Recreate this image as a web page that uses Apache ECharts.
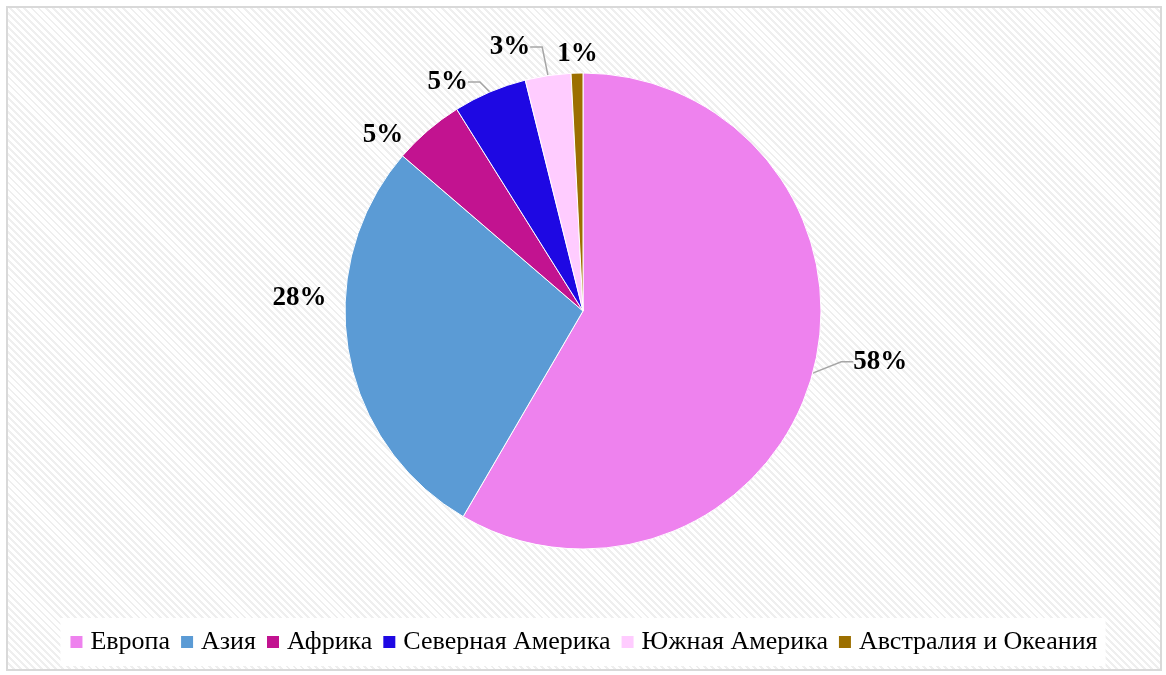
<!DOCTYPE html>
<html lang="ru">
<head>
    <meta charset="UTF-8">
    <title>Круговая диаграмма</title>
    <script src="https://cdn.jsdelivr.net/npm/echarts@6/dist/echarts.min.js"></script>
    <style>
        body { margin: 0; background: #fff; }
        #frame {
            position: absolute; left: 6px; top: 6px; width: 1152px; height: 661px;
            border: 2px solid #d9d9d9;
            background: repeating-linear-gradient(45deg, #ffffff 0px, #ffffff 3px, #efefef 3px, #efefef 5px);
        }
        #pieDiv { position: absolute; left: 0; top: 0; width: 1166px; height: 675px; }
    </style>
</head>
<body>
    <div id="frame"></div>
    <div id="pieDiv"></div>
    <script>
        // данные
        var regions = ['Европа', 'Азия', 'Африка', 'Северная Америка', 'Южная Америка', 'Австралия и Океания'];
        var shares = [58.4, 27.9, 4.8, 5.0, 3.1, 0.8];
        var colors = ['#EE82EE', '#5B9BD5', '#C21390', '#1E08E3', '#FFCCFF', '#9C6F00'];

        var mychart = echarts.init(document.getElementById('pieDiv'));

        // линии выносок как в Excel
        var showLine = [true, false, false, true, true, false];
        // сдвиг подписей как в Excel
        var labelShift = [[10, -15], [4, -55], [23, -11], [58, -35], [77, -41], [38, -5]];

        var pieData = [];
        for (var i = 0; i < regions.length; i++) {
            pieData.push({
                name: regions[i],
                value: shares[i],
                itemStyle: { color: colors[i] },
                labelLine: { show: showLine[i] }
            });
        }

        var option = {
            backgroundColor: 'transparent',
            animation: false,
            legend: {
                bottom: 9,
                left: 'center',
                icon: 'rect',
                itemWidth: 14,
                itemHeight: 14,
                itemGap: 9,
                padding: [11, 8, 11, 8],
                backgroundColor: '#fff',
                textStyle: { fontFamily: 'Liberation Serif', fontSize: 26, color: '#000', padding: [0, 0, 0, 2] },
                data: regions
            },
            series: [{
                type: 'pie',
                center: [583, 311],
                radius: 238,
                startAngle: 90,
                clockwise: true,
                avoidLabelOverlap: true,
                itemStyle: { borderColor: '#fff', borderWidth: 1 },
                label: {
                    position: 'outside',
                    fontFamily: 'Liberation Serif',
                    fontWeight: 'bold',
                    fontSize: 27,
                    color: '#000',
                    formatter: function (p) { return Math.round(p.percent) + '%'; }
                },
                labelLine: {
                    show: true,
                    length: 14,
                    length2: 12,
                    lineStyle: { color: '#a6a6a6', width: 1.5 }
                },
                labelLayout: function (params) {
                    var s = labelShift[params.dataIndex];
                    var r = params.labelRect;
                    var ax = params.align === 'right' ? r.x + r.width : (params.align === 'center' ? r.x + r.width / 2 : r.x);
                    return { x: ax + s[0], y: r.y + r.height / 2 + s[1] };
                },
                data: pieData
            }]
        };

        mychart.setOption(option, true);
    </script>
</body>
</html>
